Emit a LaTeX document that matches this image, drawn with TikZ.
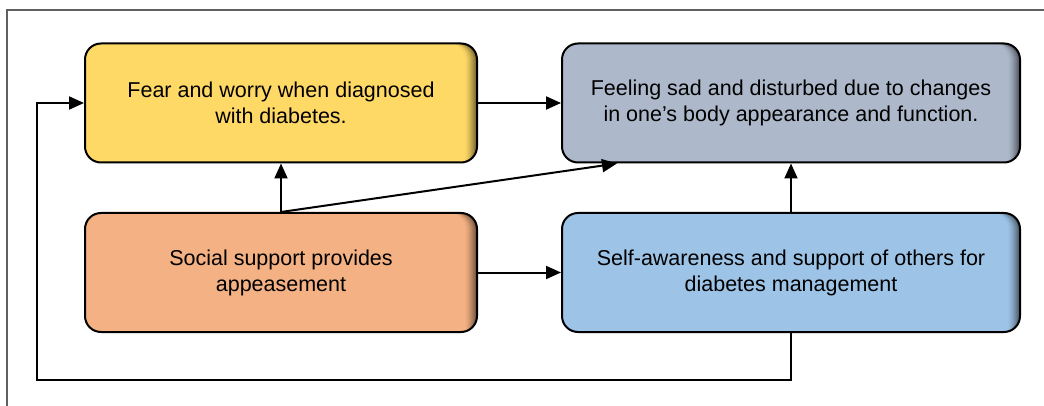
\documentclass[tikz,border=0pt]{standalone}
\usepackage{fontspec}
\setmainfont{Liberation Sans}
\usetikzlibrary{arrows.meta,calc}
\definecolor{cyellow}{HTML}{FFD966}
\definecolor{cgray}{HTML}{ADB9CA}
\definecolor{corange}{HTML}{F4B183}
\definecolor{cblue}{HTML}{9DC3E6}
\definecolor{cframe}{HTML}{606060}
\tikzset{
  box/.style={draw=black, line width=2pt, rounded corners=16pt, fill=#1,
    minimum height=119pt, align=center, inner sep=0pt,
    font=\fontsize{21.5}{26}\selectfont,
    path picture={
      \foreach \i in {0,1,...,12}{
        \pgfmathtruncatemacro\pc{100-55*(1-\i/12)^1.5}
        \fill[#1!\pc!black, rounded corners=16pt]
          (path picture bounding box.north west) rectangle
          ($(path picture bounding box.south east)+(-\i,\i)$);
      }
    }},
  arr/.style={draw=black, line width=2pt, -{Triangle[length=15pt,width=13pt]}},
  frame/.style={draw=cframe, line width=1.5pt}
}
\begin{document}
\begin{tikzpicture}[x=1pt,y=-1pt]
\useasboundingbox (0,0) rectangle (1044,406);
\draw[frame] (7,406) -- (7,10) -- (1044,10);
\node[box=cyellow, minimum width=392pt] (yellow) at (281,103) {Fear and worry when diagnosed\\with diabetes.};
\node[box=cgray, minimum width=458pt] (gray) at (791,103) {Feeling sad and disturbed due to changes\\in one’s body appearance and function.};
\node[box=corange, minimum width=392pt] (orange) at (281,272.5) {Social support provides\\appeasement};
\node[box=cblue, minimum width=458pt] (blue) at (791,272.5) {Self-awareness and support of others for\\diabetes management};
\coordinate (graytip) at ($(gray.south west)+(56,0)$);
\coordinate (fbl) at (37,380);
\draw[arr] (yellow.east) -- (gray.west);
\draw[arr] (orange.east) -- (blue.west);
\draw[arr] (orange.north) -- (yellow.south);
\draw[arr] (orange.north) -- (graytip);
\draw[arr] (blue.north) -- (gray.south);
\draw[arr] (blue.south) |- (fbl) |- (yellow.west);
\end{tikzpicture}
\end{document}
